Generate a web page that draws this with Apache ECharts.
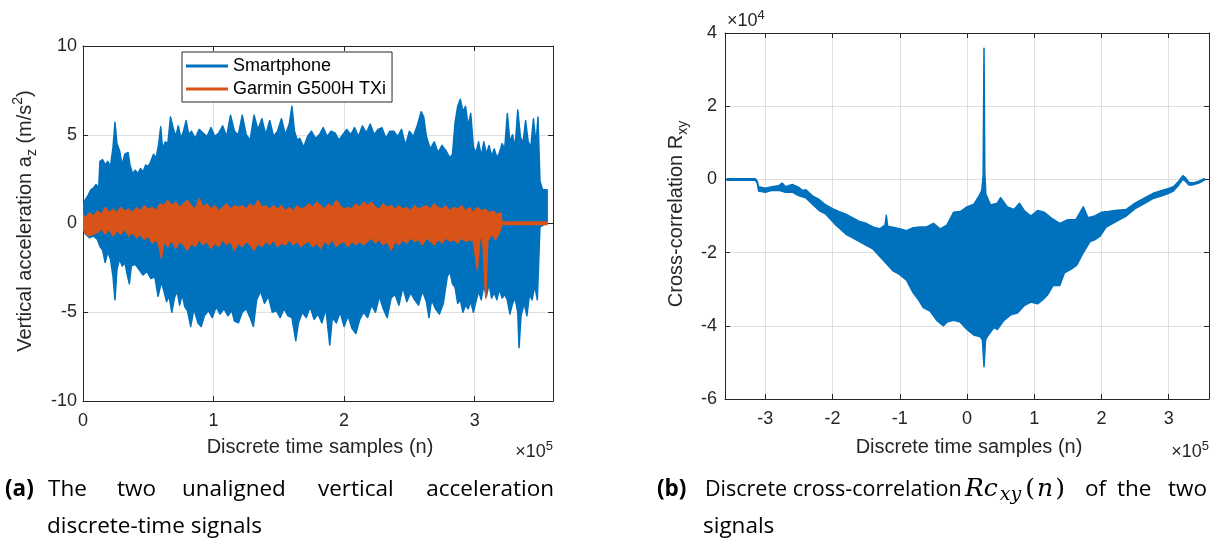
<!DOCTYPE html>
<html>
<head>
<meta charset="utf-8">
<script src="https://cdn.jsdelivr.net/npm/echarts@6/dist/echarts.min.js"></script>
<style>html,body{margin:0;padding:0;background:#fff}#c{width:1223px;height:547px}</style>
</head>
<body>
<div id="c"></div>
<script>
// ---------- DATA (x in units of 1e5 samples) ----------
// Left plot: axis ticks
const xTicksA = [0, 1, 2, 3];
const yTicksA = [-10, -5, 0, 5, 10];
// Smartphone a_z envelope (upper / lower), m/s^2
const smUpper = [[0,1.0],[0.015,1.3],[0.04,1.6],[0.06,1.9],[0.08,2.0],[0.10,2.2],[0.12,2.0],[0.13,3.5],[0.15,3.6],[0.17,3.3],[0.19,3.5],[0.21,3.2],[0.23,4.3],[0.245,5.7],[0.26,4.5],[0.28,4.1],[0.30,3.3],[0.32,3.9],[0.345,4.0],[0.36,3.3],[0.38,2.8],[0.40,3.0],[0.42,2.8],[0.44,3.1],[0.46,2.9],[0.48,3.3],[0.50,3.2],[0.52,3.5],[0.54,3.9],[0.56,3.7],[0.58,4.5],[0.595,5.45],[0.61,4.2],[0.63,4.6],[0.65,4.5],[0.67,6.0],[0.69,5.4],[0.71,4.9],[0.73,5.5],[0.75,4.8],[0.77,5.2],[0.79,5.8],[0.81,5.0],[0.83,5.2],[0.86,4.8],[0.89,5.3],[0.92,5.1],[0.95,4.9],[0.98,5.4],[1.01,4.9],[1.04,5.1],[1.07,5.5],[1.10,4.9],[1.13,6.1],[1.16,5.2],[1.19,5.0],[1.22,6.1],[1.25,5.0],[1.28,4.7],[1.31,6.1],[1.34,5.3],[1.37,5.9],[1.40,5.0],[1.43,5.8],[1.46,4.9],[1.49,5.2],[1.52,5.9],[1.55,5.0],[1.58,5.6],[1.60,6.6],[1.62,5.2],[1.64,4.7],[1.66,4.8],[1.69,4.3],[1.72,4.9],[1.75,5.2],[1.78,4.8],[1.81,5.0],[1.84,5.4],[1.87,4.9],[1.90,5.2],[1.93,5.1],[1.96,4.7],[1.99,5.0],[2.02,5.3],[2.05,5.0],[2.08,5.4],[2.11,4.9],[2.14,5.5],[2.17,5.1],[2.20,5.6],[2.23,5.0],[2.26,5.3],[2.29,5.4],[2.32,4.8],[2.35,5.2],[2.38,5.2],[2.41,4.9],[2.44,5.3],[2.47,4.4],[2.50,5.2],[2.53,4.9],[2.56,5.5],[2.59,6.3],[2.61,6.0],[2.63,4.9],[2.66,4.2],[2.69,4.6],[2.72,4.0],[2.75,4.4],[2.78,4.1],[2.81,3.7],[2.83,3.9],[2.85,5.7],[2.87,6.6],[2.89,7.0],[2.91,6.3],[2.93,6.6],[2.95,5.5],[2.97,6.2],[2.99,4.3],[3.01,4.0],[3.03,4.6],[3.05,3.8],[3.07,4.6],[3.09,3.9],[3.11,4.4],[3.13,3.8],[3.15,4.2],[3.17,3.7],[3.19,4.0],[3.21,4.5],[3.23,4.2],[3.25,6.2],[3.27,4.6],[3.29,5.0],[3.31,4.3],[3.33,6.4],[3.35,4.9],[3.37,4.5],[3.39,5.8],[3.41,4.6],[3.43,4.3],[3.45,5.9],[3.47,4.5],[3.485,6.0],[3.50,2.4],[3.52,1.9],[3.555,1.9]];
const smLower = [[0,-0.3],[0.02,-0.6],[0.05,-0.8],[0.08,-0.7],[0.11,-0.9],[0.13,-1.3],[0.15,-1.5],[0.17,-2.2],[0.19,-1.6],[0.21,-2.0],[0.23,-3.0],[0.245,-4.3],[0.26,-2.6],[0.28,-2.0],[0.30,-2.4],[0.32,-2.2],[0.34,-2.9],[0.355,-3.4],[0.37,-2.4],[0.40,-2.3],[0.43,-2.6],[0.46,-2.9],[0.49,-2.7],[0.52,-3.1],[0.55,-3.0],[0.575,-4.1],[0.60,-3.3],[0.62,-3.8],[0.64,-4.4],[0.66,-4.1],[0.68,-5.0],[0.70,-4.2],[0.72,-3.8],[0.74,-4.6],[0.76,-4.0],[0.78,-4.7],[0.80,-4.9],[0.825,-5.8],[0.85,-4.8],[0.88,-5.6],[0.905,-5.8],[0.93,-5.2],[0.96,-4.9],[0.99,-5.3],[1.02,-4.7],[1.05,-5.1],[1.08,-4.8],[1.11,-5.2],[1.14,-4.9],[1.16,-5.5],[1.19,-5.6],[1.22,-5.0],[1.25,-4.8],[1.28,-5.3],[1.305,-5.8],[1.33,-4.3],[1.36,-3.8],[1.39,-4.5],[1.42,-4.1],[1.45,-5.0],[1.48,-4.9],[1.51,-5.3],[1.54,-4.8],[1.57,-5.2],[1.60,-5.3],[1.63,-6.6],[1.65,-5.6],[1.68,-5.0],[1.71,-5.3],[1.74,-4.7],[1.77,-5.4],[1.80,-5.1],[1.83,-5.6],[1.86,-4.8],[1.89,-6.85],[1.91,-5.3],[1.94,-5.6],[1.97,-5.0],[2.00,-5.8],[2.03,-5.2],[2.06,-5.9],[2.09,-6.2],[2.12,-5.4],[2.15,-5.0],[2.18,-5.3],[2.21,-4.6],[2.24,-5.0],[2.27,-4.1],[2.30,-4.8],[2.33,-5.3],[2.36,-4.2],[2.39,-4.0],[2.42,-4.6],[2.45,-3.6],[2.48,-4.4],[2.51,-3.9],[2.54,-4.3],[2.57,-4.6],[2.60,-3.8],[2.63,-4.4],[2.65,-5.3],[2.67,-4.3],[2.70,-4.8],[2.73,-5.1],[2.76,-4.5],[2.79,-3.0],[2.81,-2.7],[2.83,-3.4],[2.85,-3.6],[2.87,-4.5],[2.89,-4.3],[2.91,-5.0],[2.93,-4.6],[2.95,-4.8],[2.97,-4.4],[2.99,-5.0],[3.01,-4.4],[3.03,-3.8],[3.05,-4.3],[3.07,-3.5],[3.09,-4.1],[3.11,-3.4],[3.13,-4.2],[3.15,-3.9],[3.17,-4.3],[3.19,-3.7],[3.21,-4.2],[3.23,-4.0],[3.25,-4.3],[3.27,-5.1],[3.29,-4.5],[3.31,-4.2],[3.33,-5.0],[3.34,-7.0],[3.355,-5.2],[3.38,-4.5],[3.40,-5.2],[3.42,-4.0],[3.44,-4.3],[3.46,-3.5],[3.48,-4.3],[3.50,-0.2],[3.52,-0.1],[3.555,0.0]];
// Garmin G500H TXi a_z envelope (upper / lower), m/s^2
const gaUpper = [[0,0.5],[0.02,0.3],[0.05,0.6],[0.08,0.4],[0.11,0.7],[0.14,0.5],[0.17,0.9],[0.20,0.6],[0.23,0.8],[0.26,0.6],[0.29,0.9],[0.32,0.7],[0.35,0.8],[0.38,0.6],[0.41,0.9],[0.44,0.7],[0.47,1.0],[0.50,0.8],[0.53,0.9],[0.56,0.7],[0.59,1.1],[0.62,1.0],[0.65,1.3],[0.68,1.0],[0.71,1.2],[0.74,0.9],[0.77,1.1],[0.80,1.3],[0.83,1.0],[0.86,0.8],[0.89,1.4],[0.92,0.9],[0.95,1.1],[0.98,0.8],[1.01,1.0],[1.04,0.7],[1.07,0.9],[1.10,1.1],[1.13,0.8],[1.16,1.0],[1.19,0.9],[1.22,1.0],[1.25,0.8],[1.28,1.1],[1.31,0.9],[1.34,1.3],[1.37,0.9],[1.40,1.0],[1.43,0.8],[1.46,1.0],[1.49,0.8],[1.52,1.0],[1.55,0.7],[1.58,0.9],[1.61,0.7],[1.64,1.0],[1.67,0.8],[1.70,0.9],[1.73,1.1],[1.76,0.9],[1.79,1.2],[1.82,1.0],[1.85,0.8],[1.88,1.1],[1.91,0.9],[1.94,1.3],[1.97,1.0],[2.00,0.8],[2.03,0.9],[2.06,0.8],[2.09,1.1],[2.12,0.9],[2.15,1.2],[2.18,1.0],[2.21,1.2],[2.24,0.9],[2.27,0.8],[2.30,1.1],[2.33,0.9],[2.36,1.0],[2.39,0.8],[2.42,1.0],[2.45,0.8],[2.48,0.9],[2.51,0.7],[2.54,1.0],[2.57,0.8],[2.60,0.9],[2.63,1.0],[2.66,0.8],[2.69,1.1],[2.72,0.9],[2.75,0.8],[2.78,1.0],[2.81,0.7],[2.84,0.9],[2.87,0.8],[2.90,1.0],[2.93,0.7],[2.96,0.9],[2.99,0.6],[3.02,0.9],[3.05,0.7],[3.08,0.8],[3.11,0.6],[3.14,0.7],[3.17,0.5],[3.20,0.6],[3.21,0.08],[3.555,0.08]];
const gaLower = [[0,-0.2],[0.02,-0.6],[0.05,-0.7],[0.08,-0.6],[0.11,-0.5],[0.14,-0.3],[0.17,-0.6],[0.20,-0.3],[0.23,-0.7],[0.26,-0.4],[0.29,-0.6],[0.32,-0.3],[0.35,-0.7],[0.38,-0.5],[0.41,-0.8],[0.44,-0.6],[0.47,-0.9],[0.50,-0.7],[0.53,-1.1],[0.56,-0.9],[0.58,-1.2],[0.60,-1.95],[0.62,-1.0],[0.65,-1.3],[0.68,-0.9],[0.71,-1.4],[0.74,-1.0],[0.77,-1.2],[0.80,-1.5],[0.83,-1.1],[0.86,-1.3],[0.89,-0.9],[0.92,-1.2],[0.95,-1.0],[0.98,-1.4],[1.01,-1.1],[1.04,-1.3],[1.07,-0.9],[1.10,-1.2],[1.13,-1.0],[1.16,-1.5],[1.19,-1.1],[1.22,-1.3],[1.25,-1.0],[1.28,-1.2],[1.31,-1.5],[1.34,-1.1],[1.37,-1.3],[1.40,-1.0],[1.43,-1.2],[1.46,-0.9],[1.49,-1.3],[1.52,-1.1],[1.55,-1.2],[1.58,-0.9],[1.61,-1.2],[1.64,-1.0],[1.67,-1.3],[1.70,-1.1],[1.73,-1.0],[1.76,-1.3],[1.79,-1.1],[1.82,-1.4],[1.85,-1.0],[1.88,-1.2],[1.91,-0.9],[1.94,-1.3],[1.97,-1.1],[2.00,-1.0],[2.03,-1.3],[2.06,-1.0],[2.09,-1.2],[2.12,-1.0],[2.15,-1.2],[2.18,-1.0],[2.21,-0.8],[2.24,-1.1],[2.27,-0.9],[2.30,-1.2],[2.33,-1.0],[2.36,-1.5],[2.39,-1.0],[2.42,-1.2],[2.45,-0.9],[2.48,-1.1],[2.51,-0.8],[2.54,-1.0],[2.57,-0.9],[2.60,-1.2],[2.63,-0.8],[2.66,-1.0],[2.69,-1.2],[2.72,-0.9],[2.75,-1.1],[2.78,-0.8],[2.81,-1.0],[2.84,-0.9],[2.87,-1.1],[2.90,-0.8],[2.93,-1.0],[2.96,-0.9],[2.99,-1.0],[3.02,-2.6],[3.04,-0.9],[3.06,-0.7],[3.085,-4.2],[3.10,-1.0],[3.13,-0.6],[3.16,-0.9],[3.19,-0.5],[3.21,-0.06],[3.555,-0.06]];
// Right plot: axis ticks (x in 1e5, y in 1e4)
const xTicksB = [-3, -2, -1, 0, 1, 2, 3];
const yTicksB = [-6, -4, -2, 0, 2, 4];
// Cross-correlation Rxy envelope (upper / lower), units of 1e4
const rxyUpper = [[-3.57,0.02],[-3.45,0.02],[-3.3,0.02],[-3.15,0.02],[-3.12,-0.05],[-3.10,-0.2],[-3.0,-0.24],[-2.9,-0.2],[-2.8,-0.17],[-2.75,-0.1],[-2.7,-0.2],[-2.6,-0.14],[-2.5,-0.22],[-2.45,-0.3],[-2.4,-0.28],[-2.3,-0.45],[-2.2,-0.55],[-2.1,-0.7],[-2.0,-0.8],[-1.9,-0.88],[-1.8,-0.95],[-1.7,-1.05],[-1.6,-1.15],[-1.5,-1.2],[-1.4,-1.3],[-1.3,-1.35],[-1.22,-1.25],[-1.2,-0.98],[-1.18,-1.28],[-1.0,-1.35],[-0.9,-1.4],[-0.8,-1.32],[-0.7,-1.3],[-0.6,-1.3],[-0.5,-1.2],[-0.4,-1.35],[-0.3,-1.25],[-0.2,-0.9],[-0.1,-0.88],[0.0,-0.75],[0.1,-0.68],[0.18,-0.45],[0.22,-0.3],[0.24,0.1],[0.253,3.58],[0.265,0.2],[0.28,-0.4],[0.35,-0.7],[0.45,-0.65],[0.5,-0.5],[0.6,-0.75],[0.7,-0.82],[0.78,-0.65],[0.85,-0.85],[0.95,-1.0],[1.05,-0.85],[1.15,-0.9],[1.25,-1.05],[1.38,-1.2],[1.5,-1.1],[1.62,-1.1],[1.73,-0.75],[1.8,-1.05],[1.9,-1.0],[2.0,-0.9],[2.1,-0.88],[2.2,-0.85],[2.37,-0.82],[2.5,-0.65],[2.65,-0.5],[2.77,-0.38],[2.9,-0.3],[3.0,-0.25],[3.07,-0.2],[3.15,-0.05],[3.21,0.1],[3.25,0.05],[3.3,-0.08],[3.36,-0.1],[3.45,-0.05],[3.53,0.02]];
const rxyLower = [[-3.57,-0.02],[-3.15,-0.02],[-3.12,-0.1],[-3.10,-0.32],[-3.0,-0.35],[-2.9,-0.3],[-2.8,-0.3],[-2.7,-0.35],[-2.6,-0.35],[-2.5,-0.45],[-2.4,-0.5],[-2.3,-0.68],[-2.2,-0.85],[-2.1,-0.95],[-2.0,-1.15],[-1.95,-1.25],[-1.89,-1.35],[-1.8,-1.5],[-1.7,-1.6],[-1.6,-1.7],[-1.5,-1.8],[-1.4,-1.9],[-1.3,-2.1],[-1.2,-2.3],[-1.1,-2.5],[-1.0,-2.6],[-0.9,-2.75],[-0.8,-3.1],[-0.72,-3.3],[-0.65,-3.5],[-0.55,-3.6],[-0.45,-3.85],[-0.35,-4.0],[-0.3,-3.9],[-0.2,-3.85],[-0.1,-3.9],[0.0,-4.1],[0.1,-4.25],[0.2,-4.3],[0.23,-4.4],[0.253,-5.12],[0.275,-4.4],[0.3,-4.3],[0.4,-4.05],[0.45,-4.1],[0.55,-3.85],[0.65,-3.7],[0.75,-3.65],[0.85,-3.45],[0.95,-3.35],[1.05,-3.4],[1.15,-3.25],[1.2,-3.15],[1.28,-2.9],[1.38,-2.9],[1.45,-2.55],[1.55,-2.45],[1.63,-2.35],[1.73,-2.0],[1.83,-1.7],[1.9,-1.65],[1.98,-1.55],[2.07,-1.3],[2.17,-1.2],[2.27,-1.1],[2.37,-1.0],[2.5,-0.8],[2.65,-0.65],[2.77,-0.52],[2.9,-0.45],[3.0,-0.38],[3.07,-0.32],[3.15,-0.15],[3.21,0.0],[3.25,-0.05],[3.3,-0.15],[3.36,-0.15],[3.45,-0.1],[3.53,-0.02]];

// ---------- STYLE ----------
const AX = '#262626', GRID = '#dfdfdf', BLUE = '#0072BD', ORANGE = '#D95319';
const SANS = 'Liberation Sans, Arial, sans-serif';
const CAP = 'Open Sans, sans-serif';
const SERIF = 'DejaVu Serif, serif';

function band(upper, lower, color) {
  return function (params, api) {
    const pts = [];
    for (let i = 0; i < upper.length; i++) pts.push(api.coord(upper[i]));
    for (let i = lower.length - 1; i >= 0; i--) pts.push(api.coord(lower[i]));
    return { type: 'polygon', shape: { points: pts },
      style: { fill: color, stroke: color, lineWidth: 1.5, lineJoin: 'round' } };
  };
}
function xAx(grid, min, max, ticks, pos) {
  const main = pos === 'bottom';
  return { type: 'value', gridIndex: grid, min: min, max: max, position: pos,
    axisLine: { show: true, onZero: false, lineStyle: { color: AX, width: 1 } },
    axisTick: { show: true, inside: true, length: 5, customValues: ticks, lineStyle: { color: AX } },
    axisLabel: { show: main, customValues: ticks, margin: 11, color: AX, fontFamily: SANS, fontSize: 18 },
    splitLine: { show: main, lineStyle: { color: GRID, width: 1 } } };
}
function yAx(grid, min, max, itv, pos, margin) {
  const main = pos === 'left';
  return { type: 'value', gridIndex: grid, min: min, max: max, interval: itv, position: pos,
    axisLine: { show: true, onZero: false, lineStyle: { color: AX, width: 1 } },
    axisTick: { show: true, inside: true, length: 5, lineStyle: { color: AX } },
    axisLabel: { show: main, margin: margin, color: AX, fontFamily: SANS, fontSize: 18 },
    splitLine: { show: main, lineStyle: { color: GRID, width: 1 } } };
}
const titleRich = {
  n: { fontFamily: SANS, fontSize: 20, fill: AX, lineHeight: 28 },
  s: { fontFamily: SANS, fontSize: 14, fill: AX, lineHeight: 14, verticalAlign: 'bottom' },
  p: { fontFamily: SANS, fontSize: 14, fill: AX, lineHeight: 16, verticalAlign: 'top' }
};
const expRich = {
  a: { fontFamily: SANS, fontSize: 18, fill: AX, lineHeight: 24 },
  b: { fontFamily: SANS, fontSize: 13, fill: AX, lineHeight: 13, verticalAlign: 'top' }
};
const mathRich = {
  i: { fontFamily: SERIF, fontStyle: 'italic', fontSize: 25, fill: '#000', lineHeight: 32 },
  ic: { fontFamily: SERIF, fontStyle: 'italic', fontSize: 25, fill: '#000', lineHeight: 32, padding: [0, 1, 0, 0] },
  j: { fontFamily: SERIF, fontStyle: 'italic', fontSize: 19, fill: '#000', lineHeight: 18, verticalAlign: 'bottom', padding: [0, 4, 0, 1] },
  u: { fontFamily: SERIF, fontSize: 25, fill: '#000', lineHeight: 32 },
  un: { fontFamily: SERIF, fontStyle: 'italic', fontSize: 25, fill: '#000', lineHeight: 32, padding: [0, 2, 0, 2] }
};
function txt(x, y, text, opt) {
  return Object.assign({ type: 'text', x: x, y: y, silent: true,
    style: Object.assign({ text: text, fill: '#000', verticalAlign: 'middle', align: 'left' }, opt || {}) });
}
const capFont = (w, a, s) => ({ font: (w || 'normal') + ' ' + (s || 22.5) + 'px ' + CAP, fill: '#000', align: a || 'left' });

const graphics = [
  // axis titles
  { type: 'text', x: 25, y: 221, rotation: Math.PI / 2, silent: true,
    style: { text: '{n|Vertical acceleration a}{s|z}{n| (m/s}{p|2}{n|)}', rich: titleRich, align: 'center', verticalAlign: 'middle' } },
  txt(320, 447, 'Discrete time samples (n)', { font: '20px ' + SANS, fill: AX, align: 'center' }),
  { type: 'text', x: 676, y: 214, rotation: Math.PI / 2, silent: true,
    style: { text: '{n|Cross-correlation R}{s|xy}', rich: titleRich, align: 'center', verticalAlign: 'middle' } },
  txt(969, 447, 'Discrete time samples (n)', { font: '20px ' + SANS, fill: AX, align: 'center' }),
  // exponent labels
  txt(553, 452, '{a|×10}{b|5}', { rich: expRich, align: 'right' }),
  txt(1209, 452, '{a|×10}{b|5}', { rich: expRich, align: 'right' }),
  txt(727, 21, '{a|×10}{b|4}', { rich: expRich, align: 'left' }),
  // caption (a)
  txt(5, 490, '(a)', capFont('bold')),
  txt(48, 490, 'The', capFont()),
  txt(117, 490, 'two', capFont()),
  txt(182, 490, 'unaligned', capFont()),
  txt(318, 490, 'vertical', capFont()),
  txt(554, 490, 'acceleration', capFont('normal', 'right')),
  txt(47, 527, 'discrete-time signals', capFont()),
  // caption (b)
  txt(657, 490, '(b)', capFont('bold')),
  txt(705, 490, 'Discrete cross-correlation', capFont('normal', 'left', 21.5)),
  txt(965, 489, '{ic|Rc}{j|xy}{u|(}{un|n}{u|)}', { rich: mathRich }),
  txt(1085, 490, 'of', capFont()),
  txt(1117, 490, 'the', capFont()),
  txt(1207, 490, 'two', capFont('normal', 'right')),
  txt(703, 527, 'signals', capFont())
];

const chart = echarts.init(document.getElementById('c'), null, { renderer: 'canvas' });
chart.setOption({
  animation: false,
  backgroundColor: '#fff',
  grid: [
    { left: 83, top: 46, width: 470, height: 355 },
    { left: 725, top: 33, width: 484, height: 366 }
  ],
  xAxis: [
    xAx(0, 0, 3.6, xTicksA, 'bottom'),
    xAx(0, 0, 3.6, xTicksA, 'top'),
    xAx(1, -3.6, 3.6, xTicksB, 'bottom'),
    xAx(1, -3.6, 3.6, xTicksB, 'top')
  ],
  yAxis: [
    yAx(0, yTicksA[0], yTicksA[yTicksA.length - 1], 5, 'left', 6),
    yAx(0, yTicksA[0], yTicksA[yTicksA.length - 1], 5, 'right', 6),
    yAx(1, yTicksB[0], yTicksB[yTicksB.length - 1], 2, 'left', 8),
    yAx(1, yTicksB[0], yTicksB[yTicksB.length - 1], 2, 'right', 8)
  ],
  legend: {
    data: ['Smartphone', 'Garmin G500H TXi'],
    orient: 'vertical', left: 182, top: 52,
    icon: 'rect', itemWidth: 42, itemHeight: 3, itemGap: 5,
    padding: [5, 6, 4, 4],
    backgroundColor: '#fff', borderColor: AX, borderWidth: 1, borderRadius: 0,
    selectedMode: false,
    textStyle: { fontFamily: SANS, fontSize: 18, color: '#000' }
  },
  series: [
    { type: 'custom', name: 'Smartphone', xAxisIndex: 0, yAxisIndex: 0, z: 2, clip: true, silent: true,
      itemStyle: { color: BLUE }, data: [[0, 0]], renderItem: band(smUpper, smLower, BLUE) },
    { type: 'custom', name: 'Garmin G500H TXi', xAxisIndex: 0, yAxisIndex: 0, z: 3, clip: true, silent: true,
      itemStyle: { color: ORANGE }, data: [[0, 0]], renderItem: band(gaUpper, gaLower, ORANGE) },
    { type: 'custom', name: 'Rxy', xAxisIndex: 2, yAxisIndex: 2, z: 2, clip: true, silent: true,
      itemStyle: { color: BLUE }, data: [[0, 0]], renderItem: band(rxyUpper, rxyLower, BLUE) }
  ],
  graphic: graphics
});
</script>
</body>
</html>
